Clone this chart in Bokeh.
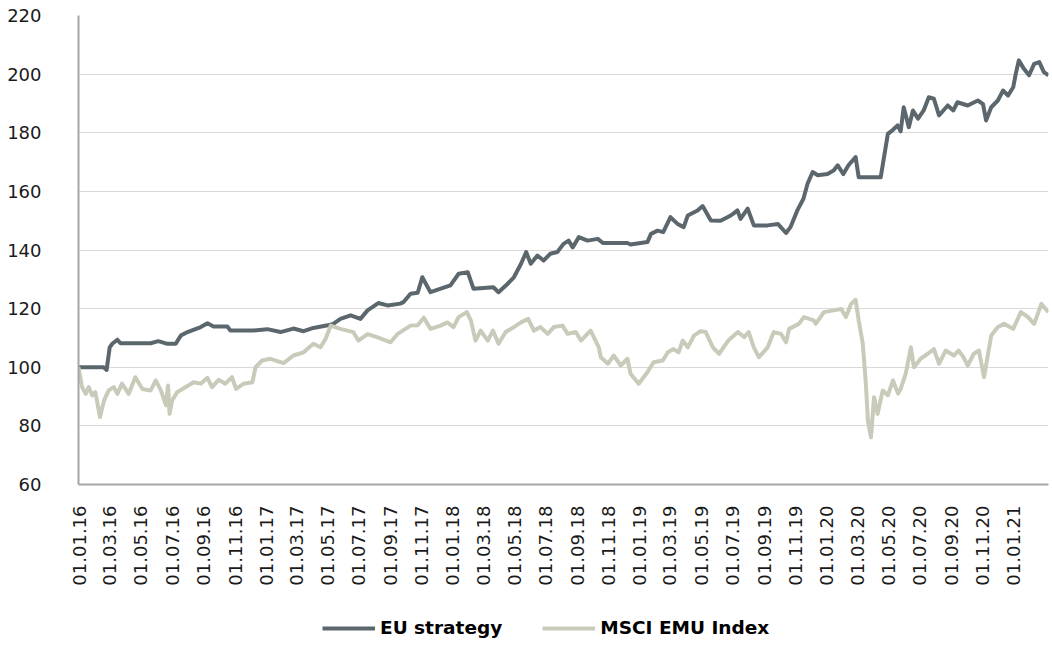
import math
import pandas as pd
from bokeh.plotting import figure
from bokeh.layouts import column
from bokeh.models import (Range1d, FixedTicker, DatetimeTickFormatter,
                          Legend, LegendItem, ColumnDataSource)
from bokeh.embed import file_html
from bokeh.resources import INLINE

series_names = ["EU strategy", "MSCI EMU Index"]
series_colors = ["#5b676d", "#c9cab9"]
y_ticks = [60, 80, 100, 120, 140, 160, 180, 200, 220]
x_tick_dates = [
    "2016-01-01", "2016-03-01", "2016-05-01", "2016-07-01", "2016-09-01", "2016-11-01",
    "2017-01-01", "2017-03-01", "2017-05-01", "2017-07-01", "2017-09-01", "2017-11-01",
    "2018-01-01", "2018-03-01", "2018-05-01", "2018-07-01", "2018-09-01", "2018-11-01",
    "2019-01-01", "2019-03-01", "2019-05-01", "2019-07-01", "2019-09-01", "2019-11-01",
    "2020-01-01", "2020-03-01", "2020-05-01", "2020-07-01", "2020-09-01", "2020-11-01",
    "2021-01-01",
]
x_start = "2015-12-31"
x_end = "2021-03-10"

eu_dates = [
    "2015-12-31", "2016-02-18", "2016-02-24", "2016-03-01", "2016-03-06", "2016-03-16",
    "2016-03-22", "2016-05-20", "2016-06-04", "2016-06-22", "2016-07-08", "2016-07-18",
    "2016-07-31", "2016-08-26", "2016-09-08", "2016-09-20", "2016-10-17", "2016-10-23",
    "2016-12-07", "2017-01-03", "2017-01-29", "2017-02-23", "2017-03-15", "2017-04-03",
    "2017-05-01", "2017-05-12", "2017-05-26", "2017-06-15", "2017-07-04", "2017-07-18",
    "2017-08-08", "2017-08-26", "2017-09-20", "2017-09-26", "2017-10-10", "2017-10-24",
    "2017-11-02", "2017-11-18", "2017-12-08", "2017-12-27", "2018-01-12", "2018-01-30",
    "2018-02-10", "2018-03-21", "2018-03-31", "2018-04-18", "2018-04-30", "2018-05-14",
    "2018-05-24", "2018-06-02", "2018-06-15", "2018-06-27", "2018-07-10", "2018-07-24",
    "2018-08-05", "2018-08-15", "2018-08-23", "2018-09-04", "2018-09-21", "2018-10-11",
    "2018-10-21", "2018-12-08", "2018-12-14", "2019-01-16", "2019-01-23", "2019-02-05",
    "2019-02-16", "2019-03-02", "2019-03-16", "2019-03-28", "2019-04-05", "2019-04-24",
    "2019-05-04", "2019-05-20", "2019-06-08", "2019-06-28", "2019-07-03", "2019-07-11",
    "2019-07-17", "2019-07-31", "2019-08-12", "2019-09-08", "2019-09-28", "2019-10-14",
    "2019-10-23", "2019-11-05", "2019-11-17", "2019-11-25", "2019-12-05", "2019-12-15",
    "2020-01-03", "2020-01-15", "2020-01-23", "2020-02-03", "2020-02-13", "2020-02-27",
    "2020-03-04", "2020-04-16", "2020-04-30", "2020-05-10", "2020-05-19", "2020-05-25",
    "2020-05-31", "2020-06-10", "2020-06-18", "2020-06-28", "2020-07-09", "2020-07-19",
    "2020-07-29", "2020-08-08", "2020-08-25", "2020-09-05", "2020-09-13", "2020-10-03",
    "2020-10-23", "2020-11-02", "2020-11-08", "2020-11-18", "2020-12-01", "2020-12-11",
    "2020-12-21", "2020-12-31", "2021-01-05", "2021-01-11", "2021-01-21", "2021-01-31",
    "2021-02-10", "2021-02-20", "2021-03-01", "2021-03-10",
]
eu_values = [
    100.0, 100.0, 99.1, 106.8, 108.0, 109.4,
    108.2, 108.2, 108.9, 108.0, 108.0, 110.8,
    112.0, 113.7, 115.0, 113.9, 113.9, 112.5,
    112.5, 113.0, 112.0, 113.2, 112.3, 113.4,
    114.3, 114.8, 116.5, 117.7, 116.5, 119.4,
    121.9, 121.1, 121.7, 122.2, 125.1, 125.4,
    130.7, 125.6, 126.8, 127.9, 131.9, 132.4,
    126.8, 127.3, 125.6, 128.5, 130.7, 135.3,
    139.3, 135.3, 138.1, 136.4, 138.7, 139.3,
    142.1, 143.2, 140.9, 144.4, 143.2, 143.8,
    142.4, 142.4, 141.9, 142.7, 145.5, 146.6,
    146.1, 151.2, 148.9, 147.8, 151.8, 153.5,
    155.0, 150.1, 150.0, 151.8, 152.4, 153.5,
    150.6, 154.1, 148.4, 148.4, 148.9, 145.8,
    147.9, 153.5, 157.5, 162.6, 166.6, 165.5,
    165.9, 167.1, 168.9, 165.9, 168.9, 171.7,
    164.8, 164.8, 179.6, 181.0, 182.5, 180.5,
    188.7, 181.9, 187.6, 184.8, 187.6, 192.1,
    191.6, 185.9, 189.3, 187.6, 190.4, 189.3,
    191.0, 189.8, 184.2, 188.7, 191.0, 194.4,
    192.7, 195.5, 200.1, 204.7, 201.8, 199.6,
    203.5, 204.1, 200.7, 199.6,
]

msci_dates = [
    "2015-12-31", "2016-01-07", "2016-01-14", "2016-01-20", "2016-01-27", "2016-02-02",
    "2016-02-11", "2016-02-19", "2016-02-28", "2016-03-09", "2016-03-16", "2016-03-25",
    "2016-04-07", "2016-04-20", "2016-05-04", "2016-05-20", "2016-05-30", "2016-06-09",
    "2016-06-19", "2016-06-23", "2016-06-26", "2016-07-01", "2016-07-11", "2016-07-27",
    "2016-08-12", "2016-08-26", "2016-09-08", "2016-09-17", "2016-09-30", "2016-10-13",
    "2016-10-26", "2016-11-03", "2016-11-18", "2016-12-05", "2016-12-11", "2016-12-24",
    "2017-01-09", "2017-01-15", "2017-02-04", "2017-02-23", "2017-03-15", "2017-04-03",
    "2017-04-17", "2017-04-27", "2017-05-07", "2017-05-26", "2017-06-20", "2017-06-30",
    "2017-07-18", "2017-08-07", "2017-09-01", "2017-09-15", "2017-10-10", "2017-10-24",
    "2017-11-05", "2017-11-18", "2017-12-08", "2017-12-21", "2018-01-02", "2018-01-12",
    "2018-01-28", "2018-02-05", "2018-02-14", "2018-02-24", "2018-03-10", "2018-03-20",
    "2018-03-31", "2018-04-14", "2018-04-30", "2018-05-14", "2018-05-28", "2018-06-08",
    "2018-06-21", "2018-07-05", "2018-07-17", "2018-08-03", "2018-08-13", "2018-08-29",
    "2018-09-08", "2018-09-27", "2018-10-13", "2018-10-17", "2018-10-31", "2018-11-11",
    "2018-11-25", "2018-12-08", "2018-12-14", "2018-12-30", "2019-01-16", "2019-01-28",
    "2019-02-15", "2019-02-25", "2019-03-08", "2019-03-18", "2019-03-26", "2019-04-05",
    "2019-04-17", "2019-04-30", "2019-05-10", "2019-05-24", "2019-06-05", "2019-06-23",
    "2019-07-12", "2019-07-24", "2019-08-02", "2019-08-12", "2019-08-22", "2019-09-08",
    "2019-09-20", "2019-10-04", "2019-10-14", "2019-10-20", "2019-11-08", "2019-11-18",
    "2019-12-07", "2019-12-11", "2019-12-27", "2020-01-15", "2020-01-30", "2020-02-08",
    "2020-02-18", "2020-02-27", "2020-03-04", "2020-03-12", "2020-03-18", "2020-03-22",
    "2020-03-28", "2020-04-03", "2020-04-10", "2020-04-20", "2020-04-30", "2020-05-10",
    "2020-05-20", "2020-05-25", "2020-06-04", "2020-06-14", "2020-06-20", "2020-07-03",
    "2020-07-17", "2020-07-29", "2020-08-08", "2020-08-21", "2020-09-06", "2020-09-15",
    "2020-09-25", "2020-10-03", "2020-10-15", "2020-10-25", "2020-11-04", "2020-11-18",
    "2020-12-01", "2020-12-13", "2020-12-31", "2021-01-15", "2021-01-29", "2021-02-10",
    "2021-02-24", "2021-03-10",
]
msci_values = [
    100.0, 93.2, 90.9, 93.2, 90.4, 91.5,
    83.0, 88.7, 92.1, 93.2, 90.9, 94.4,
    90.9, 96.6, 92.6, 92.1, 95.5, 92.1,
    87.0, 93.8, 84.1, 88.7, 91.5, 93.2,
    94.9, 94.4, 96.4, 93.2, 95.7, 94.4,
    96.6, 92.6, 94.4, 94.9, 100.0, 102.3,
    102.9, 102.5, 101.4, 104.0, 105.1, 108.0,
    106.8, 109.7, 114.2, 113.1, 112.0, 109.1,
    111.3, 110.2, 108.5, 111.4, 114.2, 114.3,
    116.9, 113.1, 114.2, 115.3, 113.7, 117.1,
    118.8, 115.9, 109.1, 112.5, 109.1, 112.5,
    108.0, 112.0, 113.7, 115.3, 116.5, 112.5,
    113.7, 111.4, 113.7, 114.2, 111.4, 112.0,
    109.1, 112.5, 106.8, 103.4, 101.2, 104.0,
    100.6, 102.9, 97.8, 94.4, 98.3, 101.7,
    102.3, 105.1, 106.2, 105.1, 109.1, 106.8,
    110.8, 112.3, 112.0, 106.8, 104.6, 109.1,
    112.0, 110.3, 112.0, 106.8, 103.4, 106.8,
    112.0, 111.4, 108.5, 113.1, 114.8, 117.1,
    116.0, 114.8, 118.8, 119.4, 119.9, 117.1,
    121.6, 123.0, 116.0, 108.0, 94.4, 81.8,
    76.1, 89.8, 84.1, 92.1, 90.4, 95.5,
    91.0, 92.6, 97.8, 106.8, 100.0, 102.9,
    104.6, 106.2, 101.2, 105.7, 104.0, 105.7,
    103.4, 100.6, 104.6, 105.7, 96.6, 110.8,
    113.7, 114.8, 113.1, 118.8, 117.1, 114.8,
    121.6, 118.8,
]

eu_src = ColumnDataSource(dict(date=pd.to_datetime(eu_dates), value=eu_values))
msci_src = ColumnDataSource(dict(date=pd.to_datetime(msci_dates), value=msci_values))

# ---------------- main chart ----------------
p = figure(width=1050, height=600, x_axis_type="datetime",
           output_backend="svg", toolbar_location=None,
           x_range=Range1d(pd.Timestamp(x_start).to_pydatetime(), pd.Timestamp(x_end).to_pydatetime()),
           y_range=Range1d(60, 220),
           min_border_left=78, min_border_right=2, min_border_top=15, min_border_bottom=116)
p.outline_line_color = None
p.background_fill_color = "white"
p.border_fill_color = "white"

p.xgrid.visible = False
p.ygrid.ticker = FixedTicker(ticks=y_ticks)
p.ygrid.grid_line_color = "#d9d9d9"
p.ygrid.grid_line_width = 1

p.yaxis.ticker = FixedTicker(ticks=y_ticks)
tick_ms = [pd.Timestamp(d).value // 10**6 for d in x_tick_dates]
p.xaxis.ticker = FixedTicker(ticks=tick_ms)
fmt = "%d.%m.%y"
p.xaxis.formatter = DatetimeTickFormatter(milliseconds=fmt, seconds=fmt, minsec=fmt,
                                          minutes=fmt, hourmin=fmt, hours=fmt,
                                          days=fmt, months=fmt, years=fmt)
p.xaxis.major_label_orientation = math.pi / 2

for ax in (p.xaxis, p.yaxis):
    ax.axis_line_color = "#a6a6a6"
    ax.axis_line_width = 2
    ax.major_tick_line_color = None
    ax.minor_tick_line_color = None
    ax.major_label_text_font = "DejaVu Sans"
    ax.major_label_text_font_size = "18px"
    ax.major_label_text_color = "#1a1a1a"
p.yaxis.major_label_standoff = 31
p.xaxis.major_label_standoff = 15

p.line("date", "value", source=eu_src, line_color=series_colors[0], line_width=4,
       line_join="round")
p.line("date", "value", source=msci_src, line_color=series_colors[1], line_width=4,
       line_join="round")

# ---------------- legend strip ----------------
lg = figure(width=1050, height=44, output_backend="svg", toolbar_location=None,
            x_range=Range1d(0, 1), y_range=Range1d(0, 1),
            min_border_left=0, min_border_right=0, min_border_top=0, min_border_bottom=0)
lg.axis.visible = False
lg.grid.visible = False
lg.outline_line_color = None
lg.background_fill_color = "white"
lg.border_fill_color = "white"
# key renderers sit outside the strip's visible range; only their legend swatches show
k1 = lg.line(x=[-5, -4], y=[-5, -4], line_color=series_colors[0], line_width=4)
k2 = lg.line(x=[-5, -4], y=[-5, -4], line_color=series_colors[1], line_width=4)
legend = Legend(items=[LegendItem(label=series_names[0], renderers=[k1]),
                       LegendItem(label=series_names[1], renderers=[k2])],
                orientation="horizontal", location=(244, 6),
                glyph_width=53, glyph_height=20, label_standoff=5, spacing=40,
                padding=0, margin=0, border_line_color=None, background_fill_alpha=0,
                label_text_font="DejaVu Sans", label_text_font_style="bold",
                label_text_font_size="18.5px", label_text_color="#000000", label_height=20)
lg.add_layout(legend, "center")

layout = column(p, lg, spacing=0)
open("out.html", "w").write(file_html(layout, INLINE))
